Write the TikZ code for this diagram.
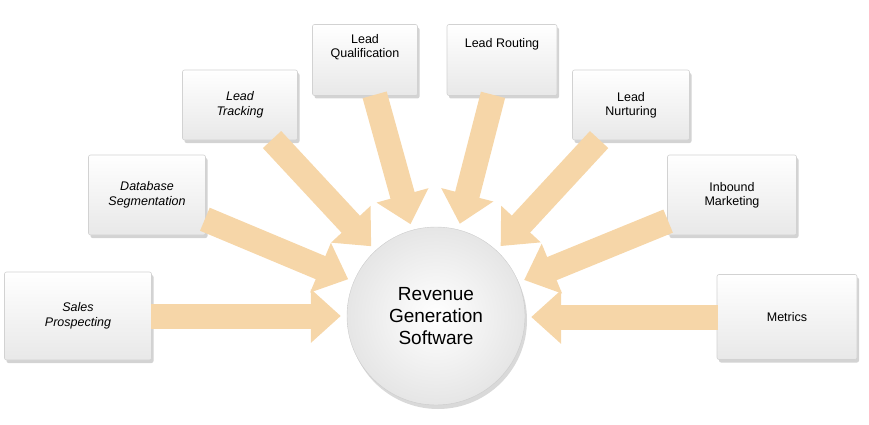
\documentclass[tikz,border=0pt]{standalone}
\usepackage{fontspec}
\setmainfont{Liberation Sans}
\usetikzlibrary{arrows.meta,shadows,shadings}
\begin{document}
\begin{tikzpicture}[x=1pt,y=-1pt,
  box/.style={draw=gray!35,line width=0.6pt,rounded corners=2pt,
    top color=white,bottom color=gray!18,
    drop shadow={shadow xshift=2pt,shadow yshift=-3pt,opacity=0.35},
    align=center,font=\fontsize{12.5}{14}\selectfont,inner sep=0pt},
  it/.style={font=\fontsize{12.5}{15}\selectfont\itshape},
  fat/.style={line width=25pt,draw={rgb,255:red,246;green,214;blue,168},
    -{Triangle[length=30pt,width=52pt]},shorten >=6pt,shorten <=-1pt}]
\useasboundingbox (0,0) rectangle (869,425);
\node[draw=gray!40,circle,minimum size=178pt,inner color=white,outer color=gray!20,
  drop shadow={shadow xshift=2pt,shadow yshift=-4pt,opacity=0.3},
  align=center,font=\fontsize{19}{22}\selectfont] (rev) at (436,316)
  {Revenue\\Generation\\Software};
\node[box,it,minimum width=147pt,minimum height=88pt] (sp) at (78,316) {Sales\\Prospecting};
\node[box,it,minimum width=117pt,minimum height=80pt] (ds) at (147,195) {Database\\Segmentation};
\node[box,it,minimum width=115pt,minimum height=70pt] (lt) at (240,105) {Lead\\Tracking};
\node[box,minimum width=105pt,minimum height=71pt] (lq) at (365,60) {Lead\\Qualification\\[14pt]};
\node[box,minimum width=110pt,minimum height=71pt] (lr) at (502,60) {Lead Routing\\[20pt]};
\node[box,minimum width=117pt,minimum height=70pt] (ln) at (631,105) {Lead\\Nurturing};
\node[box,minimum width=129pt,minimum height=80pt] (im) at (732,195) {Inbound\\Marketing};
\node[box,minimum width=140pt,minimum height=85pt] (me) at (787,317) {Metrics};
\draw[fat] (sp.east) -- (rev.west |- sp.east);
\draw[fat] (ds) -- (rev);
\draw[fat] (lt) -- (rev);
\draw[fat] (lq) -- (rev);
\draw[fat] (lr) -- (rev);
\draw[fat] (ln) -- (rev);
\draw[fat] (im) -- (rev);
\draw[fat] (me.west) -- (rev.east |- me.west);
\end{tikzpicture}
\end{document}
